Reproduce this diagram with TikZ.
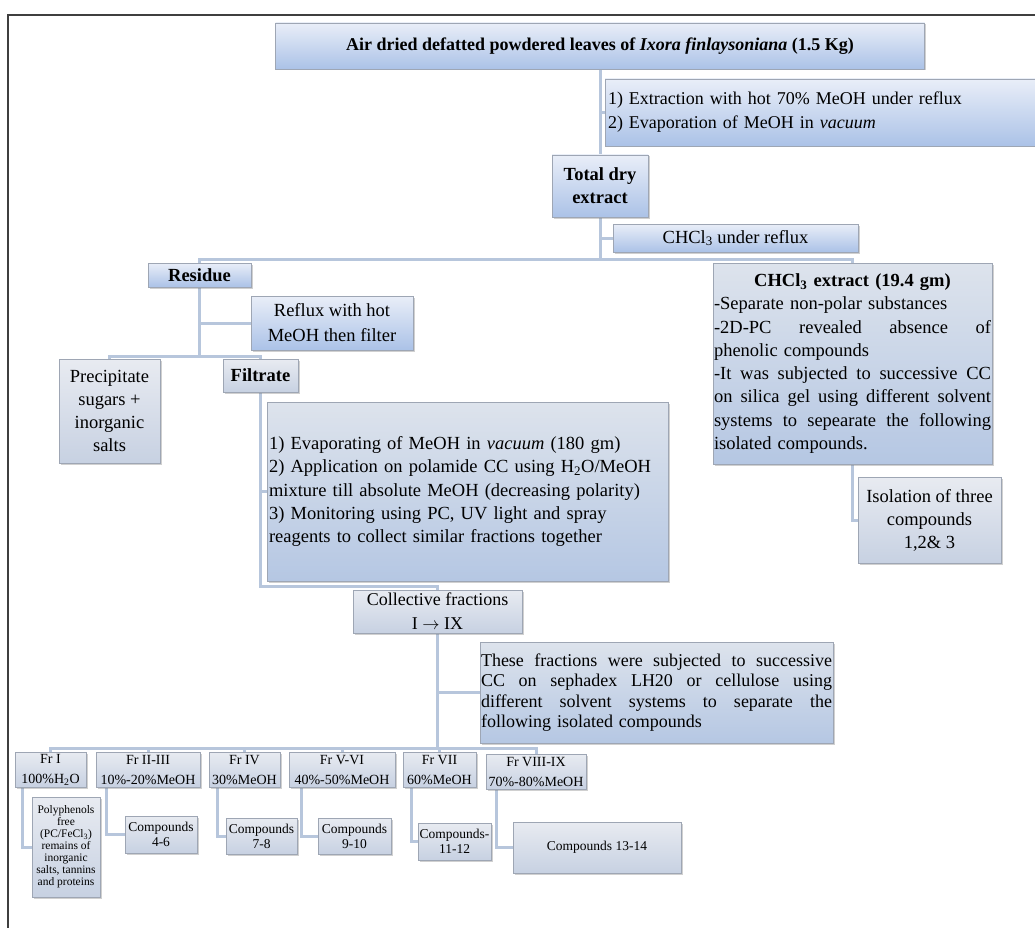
\documentclass[tikz,border=0pt]{standalone}
\usepackage{fontspec}
\setmainfont{Liberation Serif}
\usetikzlibrary{shadows,calc,backgrounds}
\definecolor{lineblue}{HTML}{B7C6DC}
\definecolor{edgegray}{HTML}{9EA6B4}
\definecolor{topblue}{HTML}{E9EEF8}
\definecolor{botblue}{HTML}{ABC2E7}
\definecolor{topmid}{HTML}{DDE3EC}
\definecolor{botmid}{HTML}{B5C7E3}
\definecolor{toppale}{HTML}{E8EBF1}
\definecolor{botpale}{HTML}{C7D1E2}
\definecolor{framegray}{HTML}{3F3F3F}
\newcommand\setfs[2]{\fontsize{#1}{#2}\selectfont}
\newcommand\jline[2]{\leavevmode\hbox to #1pt{\spaceskip=.25em plus 1fil\relax #2}}
\tikzset{
  box/.style={draw=edgegray, line width=0.8pt, inner sep=0pt, text=black,
    drop shadow={shadow xshift=1.5pt, shadow yshift=-1.5pt, opacity=0.3, fill=black!60}},
  bluebox/.style={box, top color=topblue, bottom color=botblue},
  midbox/.style={box, top color=topmid, bottom color=botmid},
  palebox/.style={box, top color=toppale, bottom color=botpale},
  frbox/.style={palebox, minimum height=35pt, align=center, font=\setfs{14}{20}},
  cbox/.style={palebox, align=center, font=\setfs{13.5}{15}},
  conn/.style={draw=lineblue, line width=3pt},
}
\begin{document}
\begin{tikzpicture}[x=1pt,y=-1pt]
\useasboundingbox (0,0) rectangle (1035,928);
\clip (0,0) rectangle (1035,928);
\draw[framegray, line width=2pt] (8,935) -- (8,15) -- (1040,15);

% upper part
\node[bluebox, minimum width=649pt, minimum height=46pt, font=\setfs{18}{22}\bfseries] (top) at (600,46)
  {Air dried defatted powdered leaves of \textit{Ixora finlaysoniana} (1.5 Kg)};
\node[bluebox, minimum width=460pt, minimum height=67pt, text width=454pt, align=left, font=\setfs{18}{24}] (step1) at (835,112.5)
  {1) Extraction with hot 70\% MeOH under reflux\\2) Evaporation of MeOH in \textit{vacuum}};
\node[bluebox, minimum width=96pt, minimum height=62pt, align=center, font=\setfs{18.5}{23}\bfseries] (total) at (600,186)
  {Total dry\\extract};
\node[bluebox, minimum width=245pt, minimum height=28pt, font=\setfs{18.5}{22}] (chcl) at (735.5,238)
  {CHCl\textsubscript{3} under reflux};
\node[bluebox, minimum width=103pt, minimum height=24pt, font=\setfs{18.5}{22}\bfseries] (residue) at (199.5,275)
  {Residue};
\node[midbox, minimum width=279pt, minimum height=201pt, text width=277pt, align=left, font=\setfs{18.5}{23.3}] (chext) at (852.5,363.5)
  {\makebox[277pt]{\bfseries CHCl\textsubscript{3} extract (19.4 gm)}\\
   -Separate non-polar substances\\
   \jline{277}{-2D-PC revealed absence of}\\
   phenolic compounds\\
   \jline{277}{-It was subjected to successive CC}\\
   \jline{277}{on silica gel using different solvent}\\
   \jline{277}{systems to sepearate the following}\\
   isolated compounds.};
\node[bluebox, minimum width=162pt, minimum height=54pt, align=center, font=\setfs{18.5}{25}] (reflux) at (332,323)
  {Reflux with hot\\MeOH then filter};
\node[palebox, minimum width=101pt, minimum height=104pt, align=center, font=\setfs{18.5}{23}] (precip) at (109.5,411)
  {Precipitate\\sugars +\\inorganic\\salts};
\node[palebox, minimum width=75pt, minimum height=33pt, font=\setfs{18.5}{22}\bfseries] (filtrate) at (260.5,375.5)
  {Filtrate};
\node[midbox, minimum width=401pt, minimum height=179pt, text width=397pt, align=left, font=\setfs{18.5}{23.4}] (proc) at (467.5,491.5)
  {1) Evaporating of MeOH in \textit{vacuum} (180 gm)\\
   2) Application on polamide CC using H\textsubscript{2}O/MeOH\\
   mixture till absolute MeOH (decreasing polarity)\\
   3) Monitoring using PC, UV light and spray\\
   reagents to collect similar fractions together};
\node[palebox, minimum width=143pt, minimum height=86pt, align=center, font=\setfs{18.5}{23}] (isol) at (929.5,520)
  {Isolation of three\\compounds\\1,2\& 3};
\node[palebox, minimum width=169pt, minimum height=43pt, align=center, font=\setfs{18}{24}] (coll) at (437.5,611.5)
  {Collective fractions\\I $\rightarrow$ IX};
\node[midbox, minimum width=353pt, minimum height=101pt, text width=351pt, align=left, font=\setfs{18}{20.6}] (these) at (656.5,692.5)
  {\jline{351}{These fractions were subjected to successive}\\
   \jline{351}{CC on sephadex LH20 or cellulose using}\\
   \jline{351}{different solvent systems to separate the}\\
   following isolated compounds};

% fractions
\node[frbox, minimum width=71pt] (fr1) at (50.5,769.5) {Fr I\\100\%H\textsubscript{2}O};
\node[frbox, minimum width=104pt] (fr23) at (148,769.5) {Fr II-III\\10\%-20\%MeOH};
\node[frbox, minimum width=71pt] (fr4) at (244.5,769.5) {Fr IV\\30\%MeOH};
\node[frbox, minimum width=106pt] (fr56) at (342,769.5) {Fr V-VI\\40\%-50\%MeOH};
\node[frbox, minimum width=73pt] (fr7) at (439.5,769.5) {Fr VII\\60\%MeOH};
\node[frbox, minimum width=100pt] (fr89) at (536,771.5) {Fr VIII-IX\\70\%-80\%MeOH};

\node[palebox, minimum width=68pt, minimum height=100pt, align=center, font=\setfs{11.5}{12}] (poly) at (66,847)
  {Polyphenols\\free\\(PC/FeCl\textsubscript{3})\\remains of\\inorganic\\salts, tannins\\and proteins};
\node[cbox, minimum width=72pt, minimum height=37pt] (c46) at (161,834.5) {Compounds\\4-6};
\node[cbox, minimum width=71pt, minimum height=36pt] (c78) at (261.5,836) {Compounds\\7-8};
\node[cbox, minimum width=73pt, minimum height=36pt] (c910) at (354.5,836) {Compounds\\9-10};
\node[cbox, minimum width=73pt, minimum height=37pt] (c1112) at (454.5,841.5) {Compounds-\\11-12};
\node[cbox, minimum width=168pt, minimum height=51pt] (c1314) at (597,847.5) {Compounds 13-14};

% connectors
\begin{scope}[on background layer]
\fill[white] (0,0) rectangle (1035,928);
\coordinate (j1) at (total.south |- 0,259);
\coordinate (j2) at (residue.south |- 0,356);
\coordinate (j3) at (filtrate.south |- 0,586);
\coordinate (j4) at (coll.south |- 0,748);
\draw[conn] (top.south) -- (total.north);
\draw[conn] (total.north |- step1.west) -- (step1.west);
\draw[conn] (total.south) -- (j1);
\draw[conn] (residue.north) |- (j1);
\draw[conn] (chext.north) |- (j1);
\draw[conn] (total.south |- chcl.west) -- (chcl.west);
\draw[conn] (residue.south) -- (j2);
\draw[conn] (precip.north) |- (j2);
\draw[conn] (filtrate.north) |- (j2);
\draw[conn] (residue.south |- reflux.west) -- (reflux.west);
\draw[conn] (filtrate.south) -- (j3) -| (coll.north);
\draw[conn] (filtrate.south |- proc.west) -- (proc.west);
\draw[conn] (chext.south) |- (isol.west);
\draw[conn] (coll.south) -- (j4);
\foreach \f in {fr1,fr23,fr4,fr56,fr7,fr89} \draw[conn] (\f.north) |- (j4);
\draw[conn] (coll.south |- these.west) -- (these.west);
\draw[conn] ($(fr1.south west)+(8,0)$) |- (poly.west);
\draw[conn] ($(fr23.south west)+(11,0)$) |- (c46.west);
\draw[conn] ($(fr4.south west)+(9,0)$) |- (c78.west);
\draw[conn] ($(fr56.south west)+(13,0)$) |- (c910.west);
\draw[conn] ($(fr7.south west)+(9,0)$) |- (c1112.west);
\draw[conn] ($(fr89.south west)+(11,0)$) |- (c1314.west);
\end{scope}
\end{tikzpicture}
\end{document}
